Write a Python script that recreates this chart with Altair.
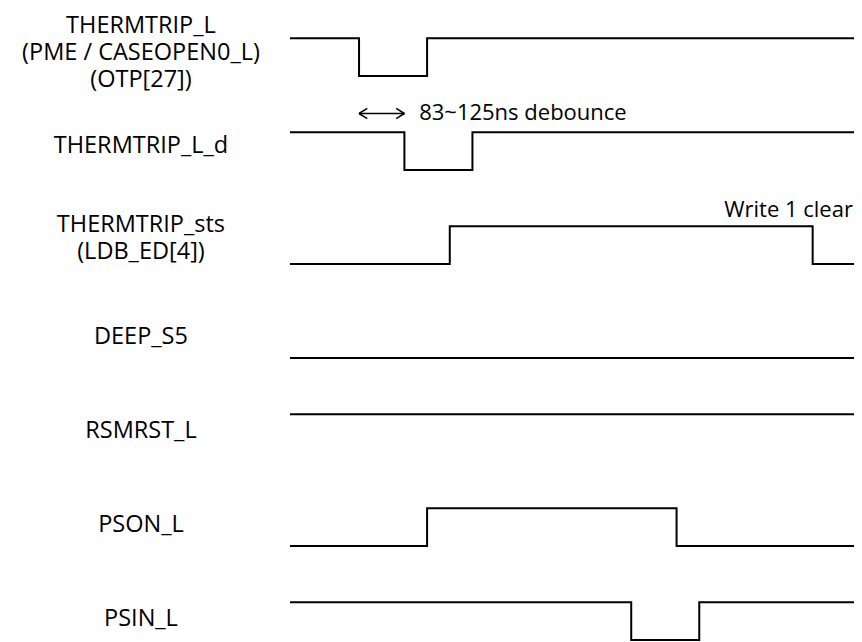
import altair as alt
import pandas as pd

# ---- data ----
signals = ["THERMTRIP_L", "THERMTRIP_L_d", "THERMTRIP_sts", "DEEP_S5", "RSMRST_L", "PSON_L", "PSIN_L"]
label_lines = [
    ["THERMTRIP_L", "(PME / CASEOPEN0_L)", "(OTP[27])"],
    ["THERMTRIP_L_d"],
    ["THERMTRIP_sts", "(LDB_ED[4])"],
    ["DEEP_S5"],
    ["RSMRST_L"],
    ["PSON_L"],
    ["PSIN_L"],
]
initial_level = [1, 1, 0, 0, 1, 0, 1]
edges = [[12, 24], [20, 32], [28, 92], [], [], [24, 68], [60, 72]]
t_start = 0
t_end = 100
debounce_span = [12, 20]
debounce_text = "83~125ns debounce"
clear_text = "Write 1 clear"

# ---- layout helpers ----
SWING = 0.4          # lane units between high and low
X_DOM = [-49.91, 99.29]
Y_DOM = [-0.3223, 6.4223]
FONT = "Open Sans"
LH = 27
PX_PER_LANE = 94.0

rows = []
for i, name in enumerate(signals):
    lvl = initial_level[i]
    k = 0
    def y_of(l):
        return i + SWING * (1 - l)
    rows.append(dict(sig=name, k=k, t=t_start, y=y_of(lvl))); k += 1
    for e in edges[i]:
        rows.append(dict(sig=name, k=k, t=e, y=y_of(lvl))); k += 1
        lvl = 1 - lvl
        rows.append(dict(sig=name, k=k, t=e, y=y_of(lvl))); k += 1
    rows.append(dict(sig=name, k=k, t=t_end, y=y_of(lvl)))
wave = pd.DataFrame(rows)

xs = alt.Scale(domain=X_DOM, nice=False, zero=False)
ys = alt.Scale(domain=Y_DOM, nice=False, zero=False, reverse=True)

lines = alt.Chart(wave).mark_line(color="black", strokeWidth=2, interpolate="linear",
                                  strokeCap="square").encode(
    x=alt.X("t:Q", scale=xs, axis=None),
    y=alt.Y("y:Q", scale=ys, axis=None),
    detail="sig:N",
    order="k:Q",
)

# lane labels (block centred a little above each lane's middle)
label_center = {0: 0.156, 1: 0.15, 2: 0.13}
lab_rows = []
for i, ln in enumerate(label_lines):
    c = i + label_center.get(i, 0.175)
    first = c - (len(ln) - 1) * LH / 2 / PX_PER_LANE
    lab_rows.append(dict(t=-26.46, y=first, txt=ln))
labels = alt.Chart(pd.DataFrame(lab_rows)).mark_text(
    font=FONT, fontSize=23.5, align="center", baseline="middle", lineHeight=LH, color="black"
).encode(
    x=alt.X("t:Q", scale=xs, axis=None),
    y=alt.Y("y:Q", scale=ys, axis=None),
    text="txt",
)

# debounce arrow
ay = 1 - 0.2
a0, a1 = debounce_span
hl, hw = 1.45, 0.055
arrow = pd.DataFrame([
    dict(t=a0, t2=a1, y=ay, y2=ay),
    dict(t=a0, t2=a0 + hl, y=ay, y2=ay - hw),
    dict(t=a0, t2=a0 + hl, y=ay, y2=ay + hw),
    dict(t=a1, t2=a1 - hl, y=ay, y2=ay - hw),
    dict(t=a1, t2=a1 - hl, y=ay, y2=ay + hw),
])
arrows = alt.Chart(arrow).mark_rule(color="black", strokeWidth=1.5).encode(
    x=alt.X("t:Q", scale=xs, axis=None), x2="t2:Q",
    y=alt.Y("y:Q", scale=ys, axis=None), y2="y2:Q",
)

note1 = alt.Chart(pd.DataFrame([dict(t=22.6, y=ay, txt=debounce_text)])).mark_text(
    font=FONT, fontSize=22, align="left", baseline="middle", color="black").encode(
    x=alt.X("t:Q", scale=xs, axis=None), y=alt.Y("y:Q", scale=ys, axis=None), text="txt")
note2 = alt.Chart(pd.DataFrame([dict(t=99.1, y=2 - 0.175, txt=clear_text)])).mark_text(
    font=FONT, fontSize=22, align="right", baseline="middle", color="black").encode(
    x=alt.X("t:Q", scale=xs, axis=None), y=alt.Y("y:Q", scale=ys, axis=None), text="txt")

chart = alt.layer(lines, labels, arrows, note1, note2).properties(
    width=846, height=634, padding=0, autosize=alt.AutoSizeParams(type="none"),
    background="white",
).configure_view(stroke=None)

chart.save("out.html", embed_options={"renderer": "svg", "actions": False})
